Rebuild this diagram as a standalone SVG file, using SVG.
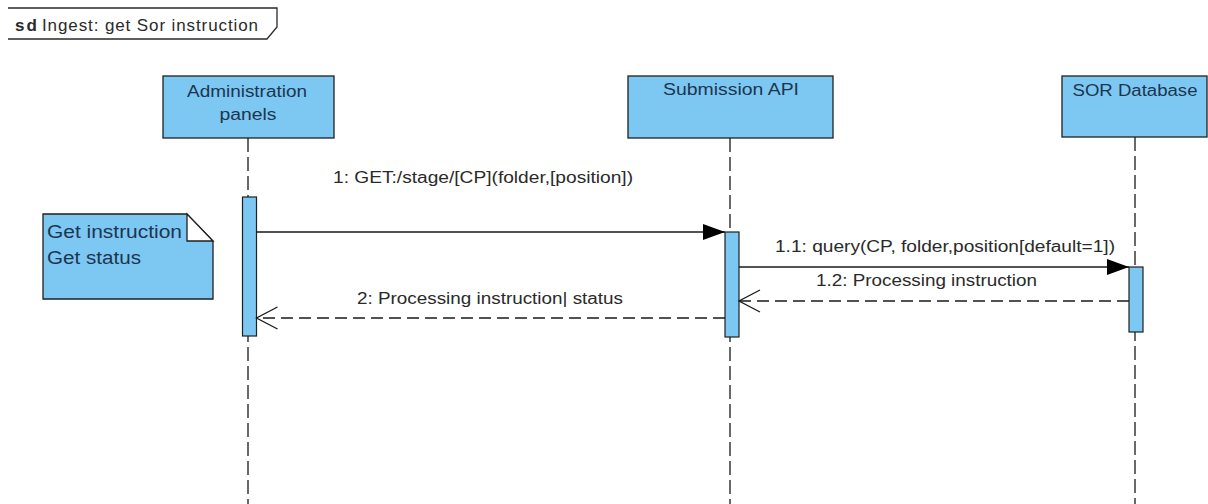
<svg xmlns="http://www.w3.org/2000/svg" width="1208" height="504" viewBox="0 0 1208 504">
<style>
  .hdr { fill: #7CC8F2; stroke: #1f1f1f; stroke-width: 1.3; }
  .act { fill: #7CC8F2; stroke: #1f1f1f; stroke-width: 1.2; }
  .life { stroke: #1a1a1a; stroke-width: 1.3; stroke-dasharray: 14 5; fill: none; }
  .msg { stroke: #1a1a1a; stroke-width: 1.3; fill: none; }
  .ret { stroke: #1a1a1a; stroke-width: 1.3; fill: none; stroke-dasharray: 12 6; }
  .ht { font-family: "Liberation Sans", Arial, sans-serif; font-size: 16px; fill: #1d3550; text-anchor: middle; }
  .ml { font-family: "Liberation Sans", Arial, sans-serif; font-size: 16px; fill: #2a2a2a; }
  .nt { font-family: "Liberation Sans", Arial, sans-serif; font-size: 18px; fill: #1d3550; }
  .ft { font-family: "Liberation Sans", Arial, sans-serif; font-size: 17px; fill: #2a2a2a; }
</style>
<defs>
  <marker id="filled" markerWidth="24" markerHeight="18" refX="22" refY="9" orient="auto" markerUnits="userSpaceOnUse">
    <path d="M0,1 L22,9 L0,17 Z" fill="#000"/>
  </marker>
  <marker id="open" markerWidth="26" markerHeight="26" refX="22" refY="13" orient="auto" markerUnits="userSpaceOnUse">
    <path d="M1,2 L22,13 L1,24" fill="none" stroke="#1a1a1a" stroke-width="1.3"/>
  </marker>
</defs>
<rect width="1208" height="504" fill="#ffffff"/>

<g id="frame">
  <path d="M8,8 L277,8 L277,27 L267,39 L8,39" fill="none" stroke="#2a2a2a" stroke-width="1.3"/>
  <text class="ft" x="15" y="31"><tspan font-weight="bold" textLength="22">sd</tspan><tspan x="42" textLength="216">Ingest: get Sor instruction</tspan></text>
</g>

<g id="admin">
  <line class="life" x1="248" y1="138" x2="248" y2="504"/>
  <rect class="hdr" x="163" y="76" width="171" height="62"/>
  <text class="ht" x="247" y="97" textLength="120" lengthAdjust="spacingAndGlyphs">Administration</text>
  <text class="ht" x="248" y="120" textLength="57" lengthAdjust="spacingAndGlyphs">panels</text>
  <rect class="act" x="242.5" y="197" width="14" height="139"/>
</g>

<g id="submission">
  <line class="life" x1="730" y1="138" x2="730" y2="504"/>
  <rect class="hdr" x="628" y="76" width="205" height="62"/>
  <text class="ht" x="731" y="95" textLength="136" lengthAdjust="spacingAndGlyphs">Submission API</text>
  <rect class="act" x="725" y="232" width="14" height="105"/>
</g>

<g id="sor">
  <line class="life" x1="1135" y1="137" x2="1135" y2="504"/>
  <rect class="hdr" x="1062" y="76" width="145" height="61"/>
  <text class="ht" x="1135" y="96" textLength="125" lengthAdjust="spacingAndGlyphs">SOR Database</text>
  <rect class="act" x="1129" y="267" width="14" height="65"/>
</g>

<g id="note">
  <path d="M43,214 L187,214 L213,241 L213,299 L43,299 Z" fill="#7CC8F2" stroke="#1f1f1f" stroke-width="1.3"/>
  <path d="M187,214 L187,241 L213,241 Z" fill="#ffffff" stroke="#1f1f1f" stroke-width="1.3"/>
  <text class="nt" x="47" y="238" textLength="135" lengthAdjust="spacingAndGlyphs">Get instruction</text>
  <text class="nt" x="47" y="264" textLength="94" lengthAdjust="spacingAndGlyphs">Get status</text>
</g>

<g id="connectors">
  <line class="msg" x1="256.5" y1="232" x2="725" y2="232" marker-end="url(#filled)"/>
  <text class="ml" x="333" y="183" textLength="300" lengthAdjust="spacingAndGlyphs">1: GET:/stage/[CP](folder,[position])</text>

  <line class="msg" x1="739" y1="267" x2="1129" y2="267" marker-end="url(#filled)"/>
  <text class="ml" x="775" y="252" textLength="340" lengthAdjust="spacingAndGlyphs">1.1: query(CP, folder,position[default=1])</text>

  <line class="ret" x1="1129" y1="301" x2="739" y2="301" marker-end="url(#open)"/>
  <text class="ml" x="816" y="286" textLength="221" lengthAdjust="spacingAndGlyphs">1.2: Processing instruction</text>

  <line class="ret" x1="725" y1="318" x2="256.5" y2="318" marker-end="url(#open)"/>
  <text class="ml" x="357" y="304" textLength="266" lengthAdjust="spacingAndGlyphs">2: Processing instruction| status</text>
</g>
</svg>
